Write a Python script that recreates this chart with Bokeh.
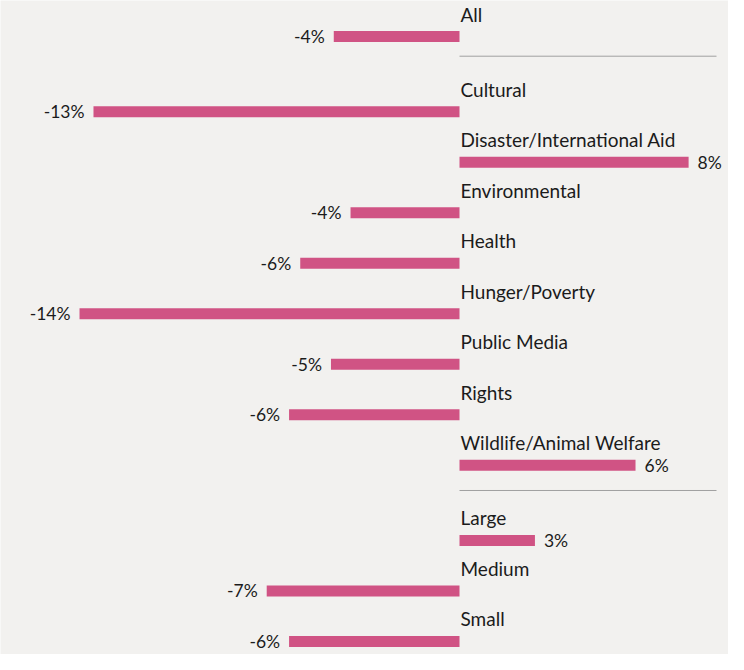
from bokeh.plotting import figure
from bokeh.models import Range1d, ColumnDataSource
from bokeh.embed import file_html
from bokeh.resources import INLINE
from bokeh.core.properties import value

# ---- data ----
group_all = ["All"]
group_cause = ["Cultural", "Disaster/International Aid", "Environmental", "Health",
               "Hunger/Poverty", "Public Media", "Rights", "Wildlife/Animal Welfare"]
group_size = ["Large", "Medium", "Small"]

values_all = [-4.5]
values_cause = [-13.1, 8.2, -3.9, -5.7, -13.6, -4.6, -6.1, 6.3]
values_size = [2.7, -6.9, -6.1]

labels_all = ["-4%"]
labels_cause = ["-13%", "8%", "-4%", "-6%", "-14%", "-5%", "-6%", "6%"]
labels_size = ["3%", "-7%", "-6%"]

# ---- layout ----
W, H = 728, 654
FONT = "Lato"
BAR = "#d05384"
BG = "#f2f1ef"
TXT = "#1b1b1b"

groups = [group_all, group_cause, group_size]
gvals = [values_all, values_cause, values_size]
glabs = [labels_all, labels_cause, labels_size]
GAP = 1.49
SEP_OFF = [0.39, 0.5]

cats, vals, labs, ys, seps = [], [], [], [], []
y = 0.0
for gi, (g, v, l) in enumerate(zip(groups, gvals, glabs)):
    if gi > 0:
        seps.append(y + SEP_OFF[gi - 1])
        y += GAP
    for j, (c, vv, ll) in enumerate(zip(g, v, l)):
        if j > 0:
            y += 1.0
        cats.append(c); vals.append(vv); labs.append(ll); ys.append(y)

pitch = 50.5
top = 36.0
zero_px = 459.0
scale = 27.94
sep_end_px = 716.0

p = figure(width=W, height=H, output_backend="svg", toolbar_location=None,
           x_range=Range1d(-zero_px / scale, (W - zero_px) / scale),
           y_range=Range1d((H - top) / pitch, -top / pitch),
           min_border=0, min_border_left=0, min_border_right=0,
           min_border_top=0, min_border_bottom=0)
p.axis.visible = False
p.grid.visible = False
p.outline_line_color = None
p.background_fill_color = BG
p.border_fill_color = BG

src = ColumnDataSource(dict(
    y=ys, v=vals, cat=cats, lab=labs,
    lab_y=[yy - 22.5 / pitch for yy in ys],
))
p.hbar(y="y", left=0, right="v", height=10.8 / pitch, source=src,
       fill_color=BAR, line_color=None)

p.text(x=0, y="lab_y", text="cat", source=src, text_font=value(FONT),
       text_font_size="19px", text_color=TXT, text_baseline="alphabetic",
       text_align="left", x_offset=1)

neg = ColumnDataSource(dict(
    x=[v for v in vals if v < 0], y=[yy for yy, v in zip(ys, vals) if v < 0],
    t=[l for l, v in zip(labs, vals) if v < 0]))
pos = ColumnDataSource(dict(
    x=[v for v in vals if v >= 0], y=[yy for yy, v in zip(ys, vals) if v >= 0],
    t=[l for l, v in zip(labs, vals) if v >= 0]))
p.text(x="x", y="y", text="t", source=neg, text_font=value(FONT),
       text_font_size="17.5px", text_color=TXT, text_baseline="middle",
       text_align="right", x_offset=-9, y_offset=0)
p.text(x="x", y="y", text="t", source=pos, text_font=value(FONT),
       text_font_size="17.5px", text_color=TXT, text_baseline="middle",
       text_align="left", x_offset=9, y_offset=0)

for sy in seps:
    p.line(x=[0, (sep_end_px - zero_px) / scale], y=[sy, sy], line_color="#a0a0a0",
           line_width=1)

open("out.html", "w").write(file_html(p, INLINE))
